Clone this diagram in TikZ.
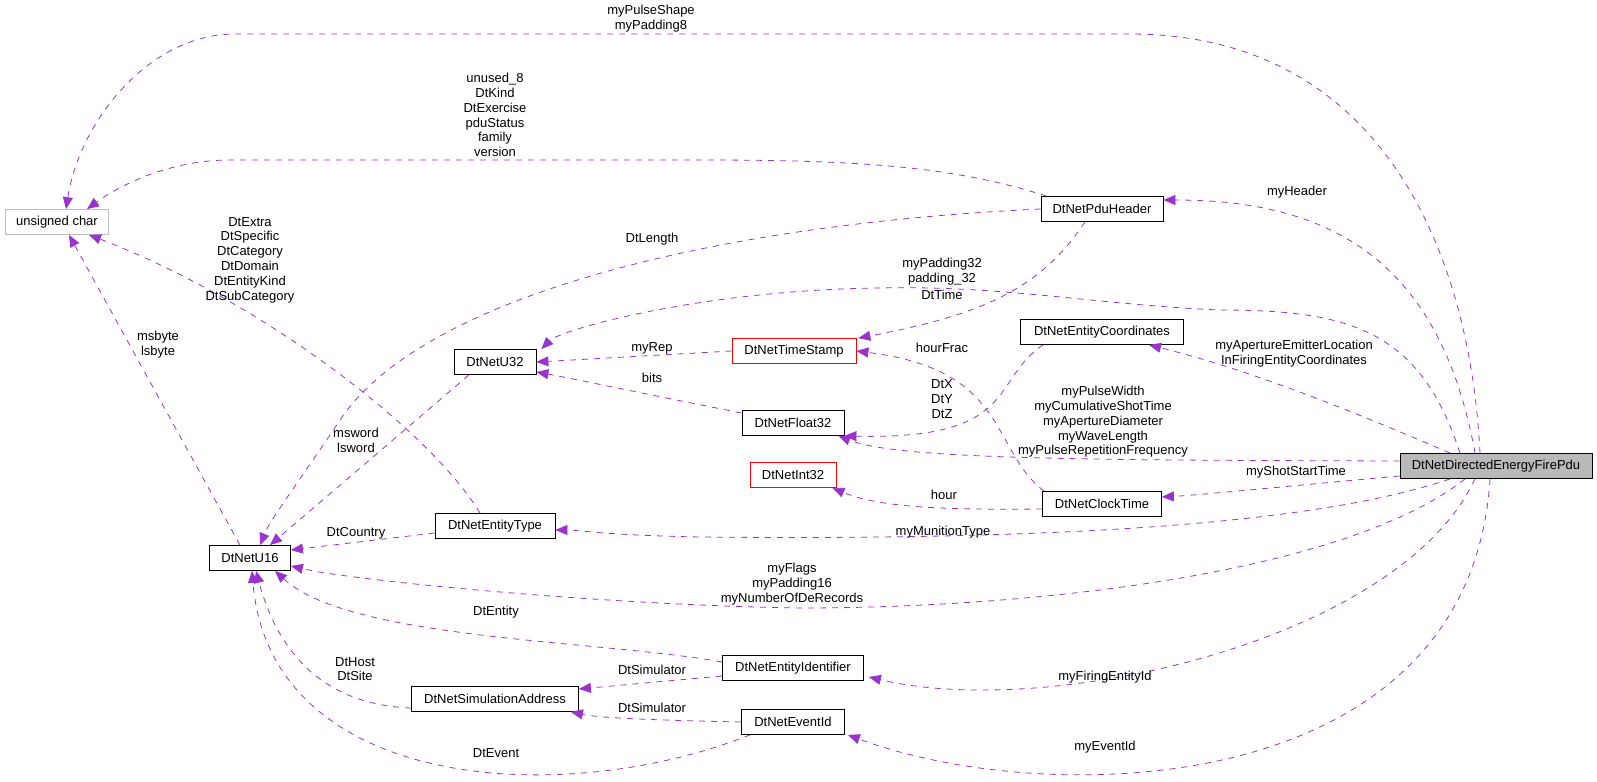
\documentclass[tikz,border=0pt]{standalone}
\usepackage{fontspec}
\setmainfont{Liberation Sans}
\usetikzlibrary{arrows.meta,calc}
\definecolor{edgepurple}{HTML}{9A32CD}
\tikzset{
  cls/.style={draw=black, fill=white, inner sep=1pt, minimum height=12.5pt, font=\fontsize{6.5}{7}\selectfont},
  redcls/.style={cls, draw=red},
  graycls/.style={cls, draw=gray!50},
  maincls/.style={cls, fill=gray!55},
  edge/.style={draw=edgepurple, dashed, -{Triangle[length=6pt,width=5pt]}},
  lbl/.style={align=center, inner sep=0pt, font=\fontsize{6.5}{7.4}\selectfont}
}
\begin{document}
\begin{tikzpicture}[x=0.5pt, y=-0.5pt]
\useasboundingbox (0,0) rectangle (1597,782);

% classes
\node[graycls, minimum width=51.5pt] (uc) at (57,222) {unsigned char};
\node[cls, minimum width=61pt] (ph) at (1102,209) {DtNetPduHeader};
\node[cls, minimum width=41pt] (u32) at (495,362) {DtNetU32};
\node[redcls, minimum width=62pt] (ts) at (794,351) {DtNetTimeStamp};
\node[cls, minimum width=81.5pt] (ec) at (1102,332) {DtNetEntityCoordinates};
\node[cls, minimum width=51pt] (fl) at (793,423) {DtNetFloat32};
\node[redcls, minimum width=43pt] (i32) at (793,475) {DtNetInt32};
\node[cls, minimum width=59.5pt] (ct) at (1102,504) {DtNetClockTime};
\node[cls, minimum width=60pt] (et) at (495,526) {DtNetEntityType};
\node[cls, minimum width=40.5pt] (u16) at (250,558) {DtNetU16};
\node[cls, minimum width=70.5pt] (ei) at (793,668) {DtNetEntityIdentifier};
\node[cls, minimum width=83.5pt] (sa) at (495,699) {DtNetSimulationAddress};
\node[cls, minimum width=51.5pt] (ev) at (793,722) {DtNetEventId};
\node[maincls, minimum width=96pt] (pdu) at (1496,466) {DtNetDirectedEnergyFirePdu};

% connectors
\draw[edge] ($(pdu.north)+(-16,0)$) .. controls (1470,250) and (1380,34) .. (1130,34) -- (235,34) .. controls (150,34) and (80,120) .. ($(uc.north)+(9,0)$);
\draw[edge] ($(ph.north west)+(6,0)$) .. controls (950,165) and (850,160) .. (700,160) -- (230,160) .. controls (170,160) and (120,185) .. ($(uc.north)+(30,0)$);
\draw[edge] ($(pdu.north)+(-21,0)$) .. controls (1440,260) and (1330,200) .. ($(ph.east)+(0,-9)$);
\draw[edge] (ph.west) .. controls (700,225) and (420,300) .. (340,420) .. controls (300,480) and (270,520) .. ($(u16.north)+(10,0)$);
\draw[edge] ($(ph.south)+(-17,0)$) .. controls (1040,290) and (980,315) .. ($(ts.north east)+(2,0)$);
\draw[edge] ($(pdu.north)+(-36,0)$) .. controls (1420,330) and (1350,310) .. (1220,310) .. controls (1100,305) and (1000,285) .. (880,288) .. controls (700,290) and (560,330) .. ($(u32.north east)+(5,0)$);
\draw[edge] ($(et.north)+(-15,0)$) .. controls (430,430) and (260,300) .. ($(uc.south)+(32,0)$);
\draw[edge] ($(u16.north)+(-10,0)$) -- ($(uc.south)+(12,0)$);
\draw[edge] (ts.west) -- (u32.east);
\draw[edge] ($(u32.south)+(-26,0)$) -- ($(u16.north)+(20,0)$);
\draw[edge] ($(fl.west)+(0,-10)$) .. controls (650,395) and (580,380) .. ($(u32.east)+(0,10)$);
\draw[edge] ($(ct.north west)+(2,0)$) .. controls (990,450) and (1010,370) .. (ts.east);
\draw[edge] ($(ec.south west)+(23,0)$) .. controls (990,380) and (1020,440) .. ($(fl.south east)+(0,0)$);
\draw[edge] ($(pdu.north)+(-46,0)$) .. controls (1350,410) and (1250,370) .. ($(ec.south)+(47,0)$);
\draw[edge] ($(pdu.west)+(0,-5)$) .. controls (1100,460) and (900,460) .. ($(fl.south east)+(-6,0)$);
\draw[edge] ($(ct.west)+(0,5)$) .. controls (950,510) and (880,508) .. ($(i32.south east)+(-4,0)$);
\draw[edge] ($(pdu.west)+(0,10)$) .. controls (1300,485) and (1200,495) .. ($(ct.east)+(0,-7)$);
\draw[edge] ($(et.west)+(0,7)$) -- ($(u16.east)+(0,-8)$);
\draw[edge] ($(pdu.south)+(-46,0)$) .. controls (1300,530) and (1000,540) .. (700,537) .. controls (600,535) and (580,530) .. ($(et.east)+(0,4)$);
\draw[edge] ($(pdu.south)+(-31,0)$) .. controls (1350,570) and (1050,608) .. (800,608) .. controls (600,605) and (350,580) .. ($(u16.east)+(0,8)$);
\draw[edge] ($(ei.west)+(0,-6)$) .. controls (600,640) and (350,640) .. ($(u16.south)+(25,0)$);
\draw[edge] ($(ei.west)+(0,8)$) -- ($(sa.east)+(0,-10)$);
\draw[edge] ($(sa.west)+(0,9)$) .. controls (330,705) and (280,660) .. ($(u16.south)+(6,0)$);
\draw[edge] (ev.west) .. controls (650,720) and (600,718) .. ($(sa.south east)+(-8,0)$);
\draw[edge] ($(ev.south west)+(9,0)$) .. controls (560,810) and (270,790) .. ($(u16.south)+(2,0)$);
\draw[edge] ($(pdu.south)+(-21,0)$) .. controls (1400,640) and (1050,720) .. ($(ei.east)+(5,9)$);
\draw[edge] ($(pdu.south)+(-6,0)$) .. controls (1470,800) and (1050,810) .. ($(ev.south east)+(3,0)$);

% labels
\node[lbl] (l1) at (651,19) {myPulseShape\\myPadding8};
\node[lbl] (l2) at (495,115) {unused\_8\\DtKind\\DtExercise\\pduStatus\\family\\version};
\node[lbl] (l3) at (1297,192) {myHeader};
\node[lbl] (l4) at (652,239) {DtLength};
\node[lbl] (l5) at (942,295) {DtTime};
\node[lbl] (l6) at (942,272) {myPadding32\\padding\_32};
\node[lbl] (l7) at (250,260) {DtExtra\\DtSpecific\\DtCategory\\DtDomain\\DtEntityKind\\DtSubCategory};
\node[lbl] (l8) at (158,345) {msbyte\\lsbyte};
\node[lbl] (l9) at (652,348) {myRep};
\node[lbl] (l10) at (356,440) {msword\\lsword};
\node[lbl] (l11) at (652,378) {bits};
\node[lbl] (l12) at (942,348) {hourFrac};
\node[lbl] (l13) at (942,399) {DtX\\DtY\\DtZ};
\node[lbl] (l14) at (1294,354) {myApertureEmitterLocation\\InFiringEntityCoordinates};
\node[lbl] (l15) at (1103,422) {myPulseWidth\\myCumulativeShotTime\\myApertureDiameter\\myWaveLength\\myPulseRepetitionFrequency};
\node[lbl] (l16) at (944,495) {hour};
\node[lbl] (l17) at (1296,472) {myShotStartTime};
\node[lbl] (l18) at (356,533) {DtCountry};
\node[lbl] (l19) at (943,532) {myMunitionType};
\node[lbl] (l20) at (792,584) {myFlags\\myPadding16\\myNumberOfDeRecords};
\node[lbl] (l21) at (496,612) {DtEntity};
\node[lbl] (l22) at (652,670) {DtSimulator};
\node[lbl] (l23) at (355,669) {DtHost\\DtSite};
\node[lbl] (l24) at (652,708) {DtSimulator};
\node[lbl] (l25) at (496,753) {DtEvent};
\node[lbl] (l26) at (1105,677) {myFiringEntityId};
\node[lbl] (l27) at (1105,747) {myEventId};
\end{tikzpicture}
\end{document}
